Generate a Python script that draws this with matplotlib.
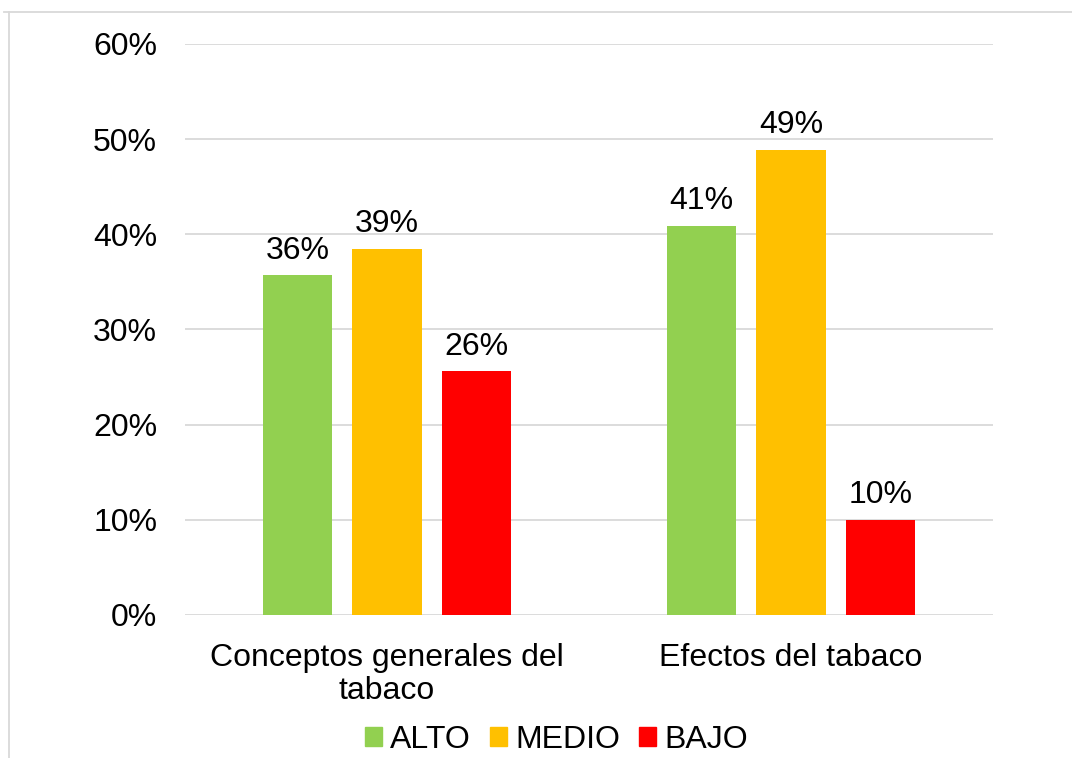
import matplotlib.pyplot as plt
import numpy as np
from matplotlib.lines import Line2D

plt.rcParams['font.family'] = ['Liberation Sans', 'DejaVu Sans']

categories = ['Conceptos generales del\ntabaco', 'Efectos del tabaco']
series_names = ['ALTO', 'MEDIO', 'BAJO']
alto = [0.357, 0.409]
medio = [0.385, 0.489]
bajo = [0.256, 0.100]
labels_alto = ['36%', '41%']
labels_medio = ['39%', '49%']
labels_bajo = ['26%', '10%']
colors = ['#92D050', '#FFC000', '#FF0000']

fig = plt.figure(figsize=(10.72, 7.58), dpi=100)
ax = fig.add_axes([0.1726, 0.1887, 0.7537, 0.7533])

x = np.arange(len(categories))
width = 0.173
step = 0.2215
fs = 23

for i, (vals, labs) in enumerate(zip([alto, medio, bajo], [labels_alto, labels_medio, labels_bajo])):
    xs = x + (i - 1) * step
    ax.bar(xs, vals, width=width, color=colors[i], zorder=3)
    for xi, v, lab in zip(xs, vals, labs):
        ax.text(xi, v + 0.01, lab, ha='center', va='bottom', fontsize=fs)

ax.set_xlim(-0.5, 1.5)
ax.set_ylim(0, 0.6)
ax.set_yticks(np.arange(0, 0.61, 0.1))
ax.set_yticklabels([f'{int(round(t * 100))}%' for t in np.arange(0, 0.61, 0.1)], fontsize=fs)
ax.set_xticks(x)
ax.set_xticklabels(categories, fontsize=fs, linespacing=1.15)
ax.tick_params(axis='both', length=0)
ax.tick_params(axis='y', pad=20)
ax.tick_params(axis='x', pad=20)
ax.grid(axis='y', color='#D9D9D9', linewidth=1.3, zorder=0)
for s in ax.spines.values():
    s.set_visible(False)

handles = [plt.Rectangle((0, 0), 1, 1, color=c) for c in colors]
fig.legend(handles, series_names, loc='center', bbox_to_anchor=(0.519, 0.024),
           ncol=3, frameon=False, fontsize=fs, handlelength=0.53, handleheight=0.53,
           handletextpad=0.25, columnspacing=0.6, borderpad=0, borderaxespad=0)

# outer chart frame
fig.add_artist(Line2D([0.004, 1.0], [0.984, 0.984], color='#D9D9D9', linewidth=1.3))
fig.add_artist(Line2D([0.008, 0.008], [0.0, 0.984], color='#D9D9D9', linewidth=1.3))

fig.savefig('out.png', dpi=100)
